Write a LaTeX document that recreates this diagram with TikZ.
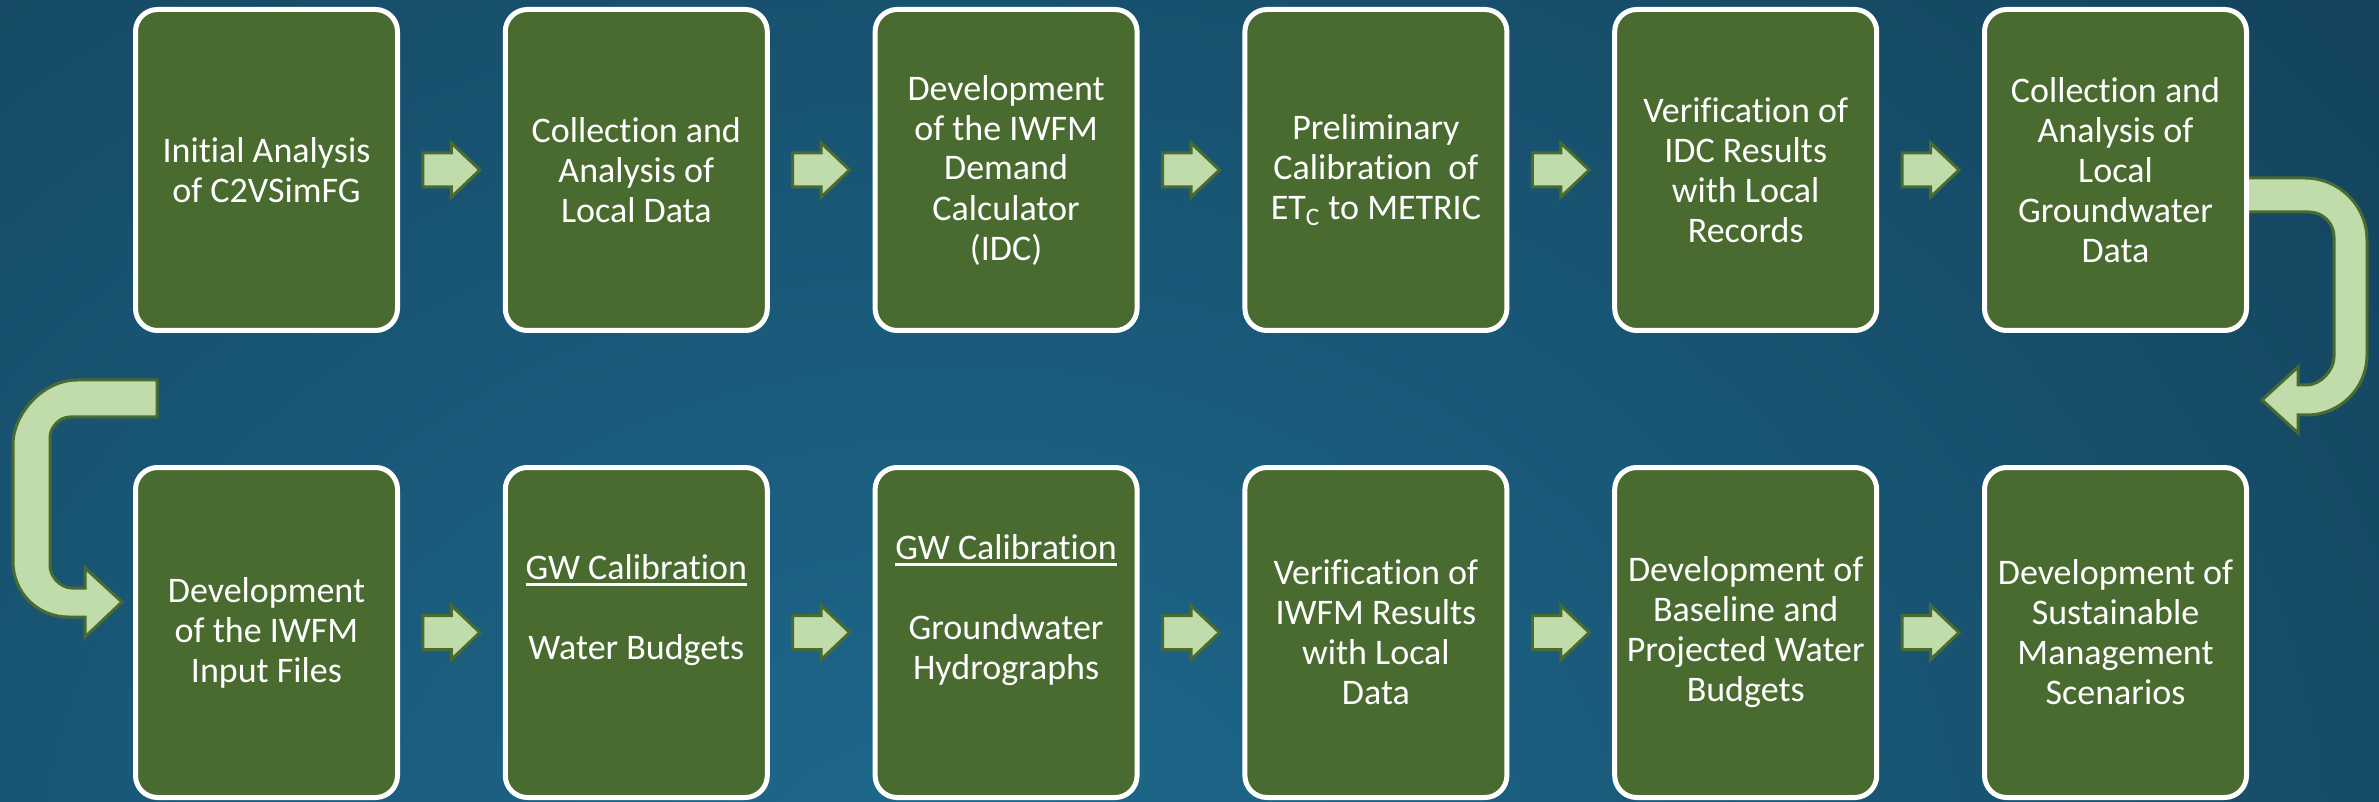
\documentclass[tikz,border=0pt]{standalone}
\usepackage{fontspec}
\setmainfont{Carlito}[Ligatures=NoCommon]
\usetikzlibrary{calc}
\definecolor{boxgreen}{RGB}{74,107,47}
\definecolor{arrowfill}{RGB}{192,220,170}
\definecolor{bgdark}{RGB}{14,46,66}
\definecolor{bglight}{RGB}{30,106,142}
\pgfdeclarelayer{back}
\pgfdeclarelayer{mid}
\pgfsetlayers{back,mid,main}
% thick underline used for the calibration headings
\newcommand{\headline}[1]{\leavevmode\vtop{\hbox{#1}\kern2pt\hrule height 1.2pt}}
\begin{document}
\begin{tikzpicture}[x=0.5pt,y=-0.5pt,
  stage/.style={draw=white, line width=2.5pt, fill=boxgreen, rounded corners=11pt,
    minimum width=131pt, inner sep=0pt, outer sep=0pt, text=white, align=center,
    font=\fontsize{18}{20}\selectfont},
  toprow/.style={stage, minimum height=160.5pt},
  botrow/.style={stage, minimum height=165pt},
  blockarrow/.style={fill=arrowfill, draw=boxgreen, line width=1.5pt, line join=miter},
  flowarrow/.pic={\draw[blockarrow] (-28.5,-17) -- (0,-17) -- (0,-27) -- (28.5,0)
    -- (0,27) -- (0,17) -- (-28.5,17) -- cycle;}
]
\useasboundingbox (0,0) rectangle (2379,802);

% backdrop
\begin{pgfonlayer}{back}
\begin{scope}
  \clip (0,0) rectangle (2379,802);
  \fill[bgdark] (0,0) rectangle (2379,802);
  \shade[inner color=bglight, outer color=bgdark] (950,900) ellipse [x radius=2800, y radius=2200];
\end{scope}
\end{pgfonlayer}

% first row of stages
\node[toprow] (t1) at (266.5,170)  {Initial Analysis\\of C2VSimFG};
\node[toprow] (t2) at (636.3,170)  {Collection and\\Analysis of\\Local Data};
\node[toprow] (t3) at (1006.1,170) {Development\\of the IWFM\\Demand\\Calculator\\(IDC)};
\node[toprow] (t4) at (1375.9,170) {Preliminary\\Calibration~ of\\ET\textsubscript{C} to METRIC};
\node[toprow] (t5) at (1745.7,170) {Verification of\\IDC Results\\with Local\\Records};
\node[toprow] (t6) at (2115.5,170) {Collection and\\Analysis of\\Local\\Groundwater\\Data};

% second row of stages
\node[botrow] (b1) at (266.5,632.5)  {Development\\of the IWFM\\Input Files};
\node[botrow] (b2) at (636.3,632.5)  {\headline{GW Calibration}\\~\\Water Budgets\\\strut};
\node[botrow] (b3) at (1006.1,632.5) {\headline{GW Calibration}\\~\\Groundwater\\Hydrographs\\\strut};
\node[botrow] (b4) at (1375.9,632.5) {Verification of\\IWFM Results\\with Local\\Data};
\node[botrow] (b5) at (1745.7,632.5) {Development of\\Baseline and\\Projected Water\\Budgets};
\node[botrow] (b6) at (2115.5,632.5) {Development of\\Sustainable\\Management\\Scenarios};

% arrows between neighbouring stages
\foreach \a/\b in {t1/t2,t2/t3,t3/t4,t4/t5,t5/t6,b1/b2,b2/b3,b3/b4,b4/b5,b5/b6}
  \pic at ($(\a.east)!0.5!(\b.west)$) {flowarrow};

% turn-around arrows linking the two rows
\begin{pgfonlayer}{mid}
\draw[blockarrow] (2240,178) -- (2305,178)
  .. controls (2339.2,178) and (2367,205.8) .. (2367,240) -- (2367,355)
  .. controls (2367,388.1) and (2340.1,415) .. (2307,415) -- (2298,415)
  -- (2298,433) -- (2262,400) -- (2298,367) -- (2298,385) -- (2306,385)
  .. controls (2321.5,385) and (2334,369.5) .. (2334,357) -- (2334,237)
  .. controls (2334,223.2) and (2322.8,212) .. (2309,212) -- (2240,212) -- cycle;
\draw[blockarrow] (157,380) -- (77,380)
  .. controls (41.7,380) and (13,415.3) .. (13,444) -- (13,562)
  .. controls (13,592.4) and (37.6,617) .. (68,617) -- (85,617)
  -- (85,637) -- (122,602) -- (85,568) -- (85,588) -- (72,588)
  .. controls (59.9,588) and (50,575.9) .. (50,566) -- (50,437)
  .. controls (50,428) and (59,417) .. (70,417) -- (157,417) -- cycle;
\end{pgfonlayer}
\end{tikzpicture}
\end{document}
